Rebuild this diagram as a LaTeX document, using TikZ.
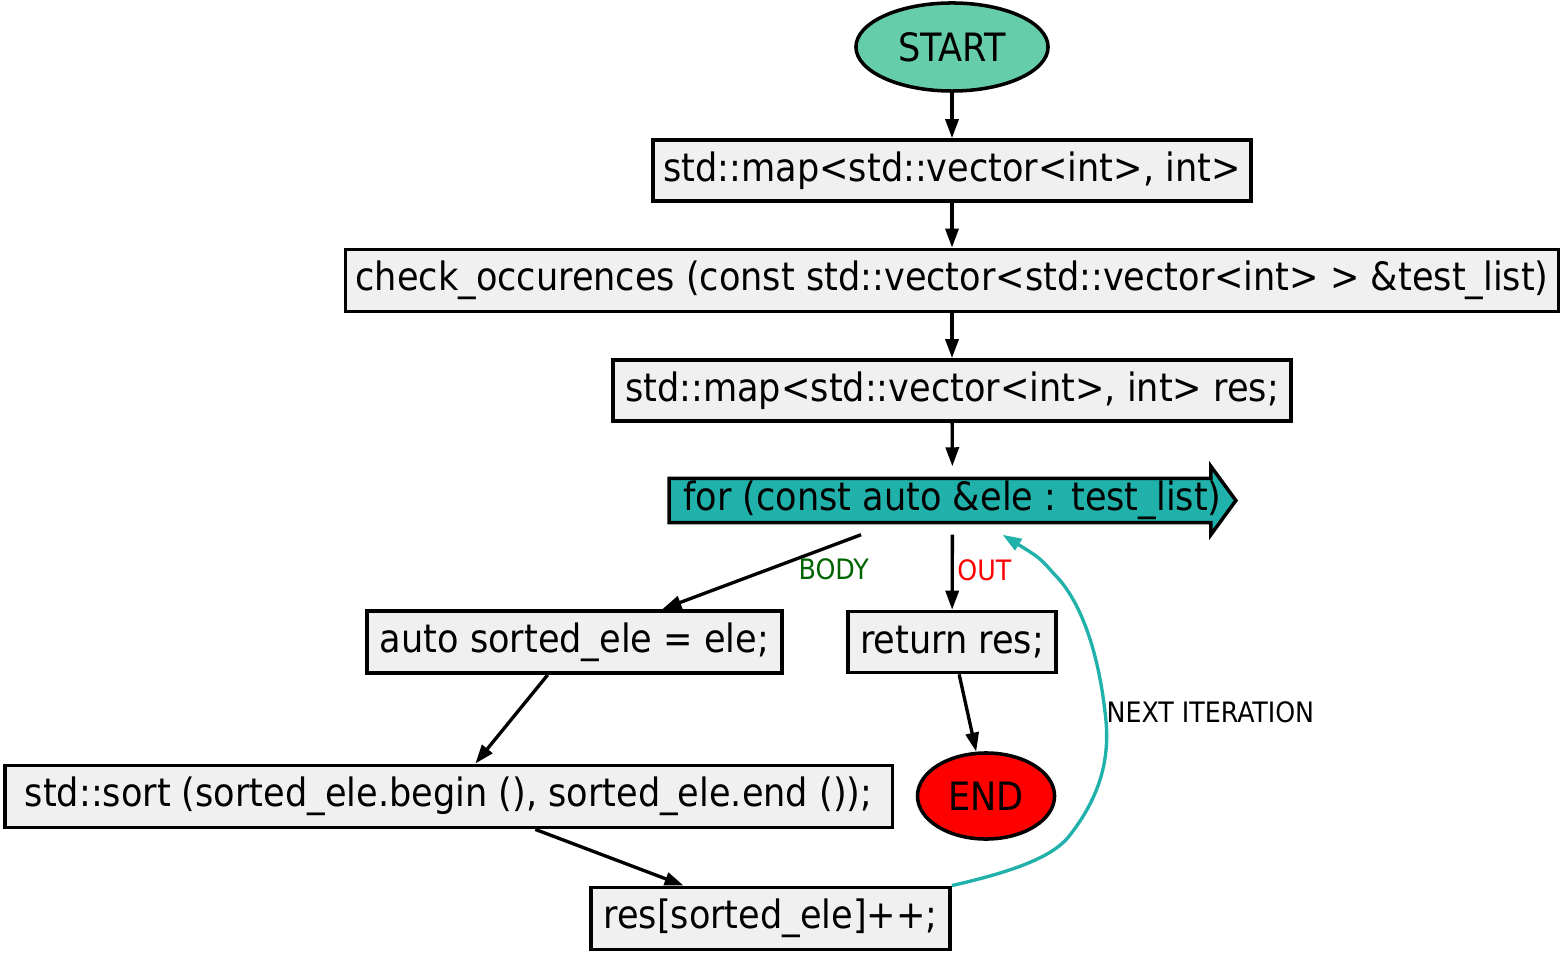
\documentclass[tikz,border=0pt]{standalone}
\usepackage{fontspec}
\setmainfont{DejaVu Sans Condensed}
\usetikzlibrary{arrows.meta,positioning,shapes.geometric,backgrounds}
\definecolor{StartGreen}{RGB}{102,205,170}
\definecolor{LoopTeal}{RGB}{32,178,170}
\definecolor{BoxGray}{RGB}{240,240,240}
\definecolor{BodyGreen}{RGB}{0,100,0}

\begin{document}
\begin{tikzpicture}[x=0.01cm, y=-0.01cm, >={Triangle[length=0.19cm,width=0.13cm]},
    every node/.style={font=\fontsize{11.1pt}{13pt}\selectfont},
    stmt/.style={draw, line width=1pt, fill=BoxGray, minimum height=0.61cm, inner xsep=0.08cm},
    term/.style={ellipse, draw, line width=1pt, inner sep=0pt},
    flow/.style={->, line width=0.95pt},
    tag/.style={font=\fontsize{8pt}{9pt}\selectfont, inner sep=1pt}]
    \useasboundingbox (0,0) rectangle (1564,955);

    % Nodes
    \node [term, fill=StartGreen, minimum width=1.92cm, minimum height=0.88cm] (start) at (952,47) {START};
    \node [stmt, minimum width=5.98cm] (decl) at (952,170.5) {std::map<std::vector<int>, int>};
    \node [stmt, minimum width=12.12cm] (func) at (952,280.5) {check\_occurences (const std::vector<std::vector<int> > \&test\_list)};
    \node [stmt, minimum width=6.78cm] (init) at (952,390.5) {std::map<std::vector<int>, int> res;};
    \node [inner sep=0pt, minimum width=5.65cm, minimum height=0.67cm] (loop) at (952.5,500.5) {for (const auto \&ele : test\_list)};
    \begin{scope}[on background layer]
        \filldraw [fill=LoopTeal, line width=1pt] ([yshift=-0.12cm]loop.north west) -- ([xshift=-0.25cm,yshift=-0.12cm]loop.north east) -- ([xshift=-0.25cm]loop.north east) -- (loop.east) -- ([xshift=-0.25cm]loop.south east) -- ([xshift=-0.25cm,yshift=0.12cm]loop.south east) -- ([yshift=0.12cm]loop.south west) -- cycle;
    \end{scope}
    \node [stmt, minimum width=4.15cm] (body) at (574.5,642) {auto sorted\_ele = ele;};
    \node [stmt, minimum width=2.08cm] (ret) at (952,642) {return res;};
    \node [term, fill=red, minimum width=1.37cm, minimum height=0.86cm] (end) at (986,796) {END};
    \node [stmt, minimum width=8.87cm] (sort) at (448.5,796.5) {std::sort (sorted\_ele.begin (), sorted\_ele.end ());};
    \node [stmt, minimum width=3.59cm] (incr) at (770.5,918.5) {res[sorted\_ele]++;};

    % Edges
    \draw [flow] (start) -- (decl);
    \draw [flow] (decl) -- (func);
    \draw [flow] (func) -- (init);
    \draw [flow] (init) -- (loop);
    \draw [flow] (loop) -- (body) node [tag, pos=0.47, xshift=0.66cm, text=BodyGreen] {BODY};
    \draw [flow] (loop) -- (ret) node [tag, pos=0.47, right, text=red] {OUT};
    \draw [flow] (ret) -- (end);
    \draw [flow] (body) -- (sort);
    \draw [flow] (sort) -- (incr);

    % Back edge
    \draw [flow, LoopTeal] (incr.north east) .. controls (1020,870) and (1055,855) .. (1070,835)
        .. controls (1105,790) and (1110,750) .. (1105,712) node [tag, right, text=black, inner sep=0pt] {NEXT ITERATION}
        .. controls (1098,650) and (1080,600) .. (1055,575)
        .. controls (1040,558) .. ([xshift=0.5cm]loop.south);
\end{tikzpicture}
\end{document}
